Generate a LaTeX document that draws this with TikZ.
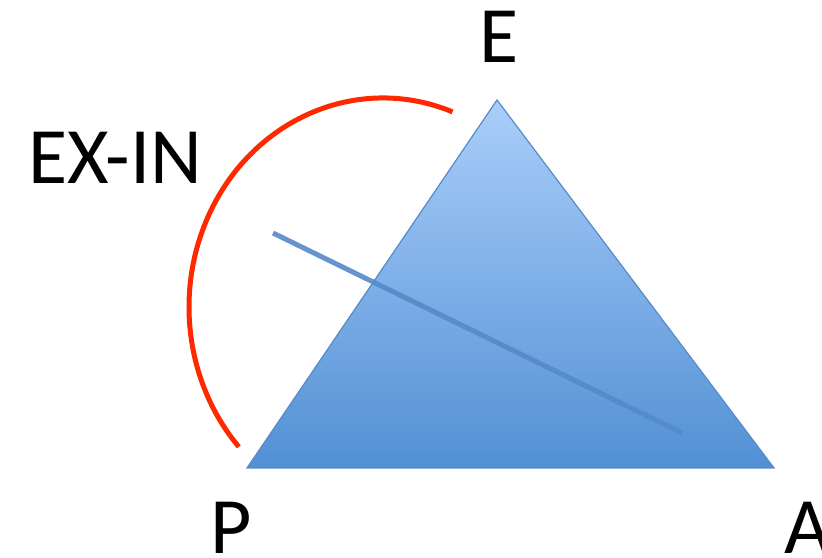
\documentclass[tikz,border=0pt]{standalone}
\usepackage{fontspec}
\setmainfont{Carlito}
\definecolor{triedge}{RGB}{88,140,200}
\definecolor{tritop}{RGB}{170,206,250}
\definecolor{tribot}{RGB}{82,144,212}
\definecolor{arcred}{RGB}{255,40,0}
\definecolor{axisblue}{RGB}{85,138,200}
\begin{document}
\begin{tikzpicture}[
    x=1pt, y=1pt,
    lbl/.style={font=\fontsize{80}{80}\selectfont, inner sep=0pt},
    tri/.style={draw=triedge, line width=1.2pt, top color=tritop, bottom color=tribot, line join=miter},
    axis/.style={draw=axisblue, line width=5pt, opacity=0.9},
    arcline/.style={draw=arcred, line width=5pt}
]
\useasboundingbox (0,0) rectangle (822,557);

\coordinate (E) at (497,457);
\coordinate (P) at (247,89);
\coordinate (A) at (774,89);
\coordinate (s) at (273,324);
\coordinate (t) at (682,124);
\coordinate (c) at (383,250);

\fill[tri] (P) -- (E) -- (A) -- cycle;
\draw[axis] (s) -- (t);
\draw[arcline] (c) ++(69:194 and 209) arc[start angle=69, end angle=222, x radius=194, y radius=209];

\node[lbl] (lE) at (499,520) {E};
\node[lbl] (lP) at (231,29) {P};
\node[lbl] (lA) at (808,29) {A};
\node[lbl] (lEXIN) at (115,399) {EX-IN};

\end{tikzpicture}
\end{document}
